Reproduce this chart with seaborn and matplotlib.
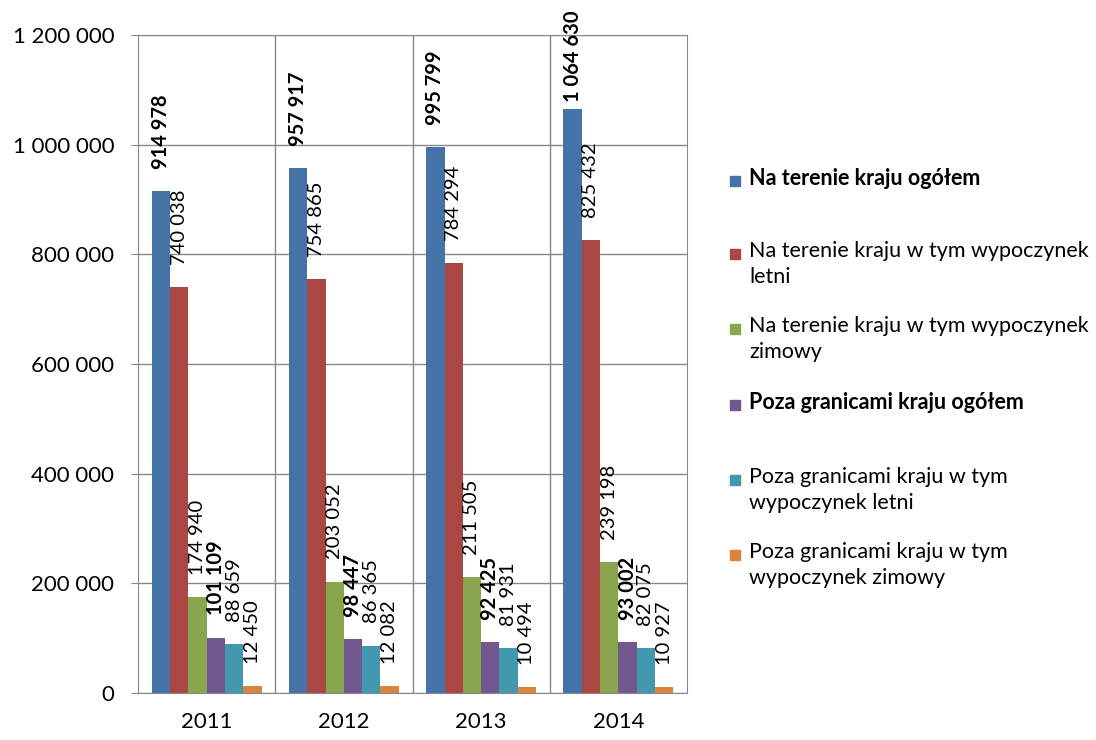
import seaborn as sns
import matplotlib.pyplot as plt
import pandas as pd
from matplotlib.patches import Rectangle
from matplotlib.ticker import FuncFormatter

years = ['2011', '2012', '2013', '2014']
series = [
    'Na terenie kraju ogółem',
    'Na terenie kraju w tym wypoczynek letni',
    'Na terenie kraju w tym wypoczynek zimowy',
    'Poza granicami kraju ogółem',
    'Poza granicami kraju w tym wypoczynek letni',
    'Poza granicami kraju w tym wypoczynek zimowy',
]
legend_labels = [
    'Na terenie kraju ogółem',
    'Na terenie kraju w tym wypoczynek\nletni',
    'Na terenie kraju w tym wypoczynek\nzimowy',
    'Poza granicami kraju ogółem',
    'Poza granicami kraju w tym\nwypoczynek letni',
    'Poza granicami kraju w tym\nwypoczynek zimowy',
]
kraj_ogolem = [914978, 957917, 995799, 1064630]
kraj_letni = [740038, 754865, 784294, 825432]
kraj_zimowy = [174940, 203052, 211505, 239198]
zagr_ogolem = [101109, 98447, 92425, 93002]
zagr_letni = [88659, 86365, 81931, 82075]
zagr_zimowy = [12450, 12082, 10494, 10927]
colors = ['#4572A7', '#AA4643', '#89A54E', '#71588F', '#4198AF', '#DB843D']
bold_series = [True, False, False, True, False, False]

values = [kraj_ogolem, kraj_letni, kraj_zimowy, zagr_ogolem, zagr_letni, zagr_zimowy]
df = pd.DataFrame([
    {'rok': y, 'seria': s, 'wartosc': v[i]}
    for s, v in zip(series, values) for i, y in enumerate(years)
])

sns.set_style('white')
plt.rcParams['font.family'] = ['Lato', 'DejaVu Sans']
plt.rcParams['text.color'] = 'black'

W, H = 1096, 740
fig = plt.figure(figsize=(W / 100, H / 100), dpi=100)
ax = fig.add_axes([138 / W, 47 / H, (687 - 138) / W, (693 - 35) / H])

sns.barplot(data=df, x='rok', y='wartosc', hue='seria', hue_order=series,
            palette=colors, width=0.8, saturation=1, legend=False, ax=ax,
            linewidth=0)

def fmt(v):
    return f'{int(v):,}'.replace(',', ' ')

labels = []
for cont, b in zip(ax.containers, bold_series):
    labels += ax.bar_label(cont, labels=[fmt(r.get_height()) for r in cont],
                           rotation=90, padding=16, fontsize=14.5, color='black',
                           fontweight='bold' if b else 'normal')

ax.set_ylim(0, 1200000)
ax.set_xlim(-0.5, 3.5)
ax.set_yticks(range(0, 1200001, 200000))
ax.yaxis.set_major_formatter(FuncFormatter(lambda v, p: fmt(v)))
ax.grid(axis='y', color='#888888', linewidth=1)
for xb in [0.5, 1.5, 2.5]:
    ax.axvline(xb, color='#888888', linewidth=1, zorder=0)
ax.set_axisbelow(True)
for sp in ax.spines.values():
    sp.set_color('#888888')
ax.set_xlabel('')
ax.set_ylabel('')
ax.tick_params(axis='both', labelsize=16, labelcolor='black')
ax.tick_params(axis='y', length=5, color='#888888', direction='out', left=True, pad=12)
ax.tick_params(axis='x', length=0, pad=14)

# keep labels inside the figure (like Excel does)
fig.canvas.draw()
for t in labels:
    bb = t.get_window_extent()
    over = bb.y1 - (H - 10)
    if over > 0:
        dx, dy = t.xyann
        t.xyann = (dx, max(0, dy - over * 72 / 100))

# legend
leg_y = [181, 254, 329, 405, 480, 555]
for lab, c, b, y in zip(legend_labels, colors, bold_series, leg_y):
    fig.patches.append(Rectangle((730 / W, 1 - (y + 5) / H), 10 / W, 10 / H,
                                 transform=fig.transFigure, color=c))
    fig.text(749 / W, 1 - (y - 13) / H, lab, va='top', fontsize=15.5,
             linespacing=1.35, color='black',
             fontweight='bold' if b else 'normal')

fig.savefig('out.png', dpi=100)
